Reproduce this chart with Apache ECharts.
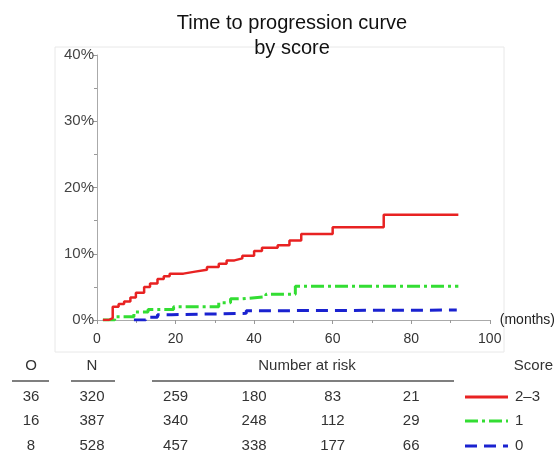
<!DOCTYPE html>
<html>
<head>
<meta charset="utf-8">
<script src="https://cdn.jsdelivr.net/npm/echarts@6/dist/echarts.min.js"></script>
<style>
  html, body { margin: 0; background: #fff; }
  #chart { width: 558px; height: 454px; }
</style>
</head>
<body>
<div id="chart"></div>
<script>
// cumulative progression (%) by month, one step list per score group
const score23 = [[1.5, 0], [3, 0.3], [4, 2.0], [5.5, 2.4], [6.9, 2.8], [8.5, 3.4], [9.9, 4.1], [12, 5.0],
  [13.5, 5.5], [15.4, 6.2], [17, 6.6], [18.5, 7.0], [22, 7.3], [25, 7.6], [28, 8.0], [31, 8.5],
  [33, 9.0], [35, 9.3], [37, 9.7], [40, 10.4], [42, 10.9], [46, 11.3], [49, 12.0], [52, 13.0],
  [60, 14.0], [73, 15.9], [92, 15.9]];
const score1 = [[1.5, 0], [4.5, 0.5], [9.4, 1.2], [13, 1.6], [19.5, 2.0], [31, 2.6], [34, 3.2],
  [37, 3.5], [43, 3.9], [50.5, 5.1], [92, 5.1]];
const score0 = [[9.4, 0], [12.4, 0.4], [15.4, 0.8], [19, 1.0], [38, 1.4], [42, 1.5], [91.6, 1.5]];

const scoreLabels = ["2–3", "1", "0"];
const observed = [36, 16, 8];
const totalN = [320, 387, 528];
const riskMonths = [20, 40, 60, 80];
const atRisk = [
  [259, 180, 83, 21],
  [340, 248, 112, 29],
  [457, 338, 177, 66]
];

const colors = ["#e82222", "#33dd33", "#1a22d0"];
const dashes = [null, [13, 4, 3, 4], [12, 7]];

const chart = echarts.init(document.getElementById("chart"));

const font = "Liberation Sans, Arial, sans-serif";

const option = {
  animation: false,
  textStyle: { fontFamily: font },
  title: {
    text: "Time to progression curve\nby score",
    left: 287,
    top: 6,
    textAlign: "center",
    textStyle: { fontSize: 20, fontWeight: "normal", color: "#111", lineHeight: 25, fontFamily: font }
  },
  grid: { left: 97, right: 68, top: 55, bottom: 134 },
  xAxis: {
    type: "value",
    min: 0,
    max: 100,
    interval: 20,
    name: "(months)",
    nameLocation: "end",
    nameGap: 10,
    nameTextStyle: { fontSize: 14, color: "#222", align: "left", verticalAlign: "middle" },
    axisLine: { lineStyle: { color: "#aaa" } },
    axisTick: { length: 4, lineStyle: { color: "#999" } },
    minorTick: { show: true, splitNumber: 2, length: 3, lineStyle: { color: "#999" } },
    axisLabel: { fontSize: 14, color: "#333", margin: 12 },
    splitLine: { show: false }
  },
  yAxis: {
    type: "value",
    min: 0,
    max: 40,
    interval: 10,
    axisLine: { show: true, lineStyle: { color: "#aaa" } },
    axisTick: { show: true, length: 4, lineStyle: { color: "#999" } },
    minorTick: { show: true, splitNumber: 2, length: 3, lineStyle: { color: "#999" } },
    axisLabel: { fontSize: 15, color: "#444", formatter: "{value}%", margin: 3 },
    splitLine: { show: false }
  },
  series: [score23, score1, score0].map((d, i) => ({
    type: "line",
    step: "end",
    data: d,
    symbol: "none",
    z: 3 - i,
    lineStyle: { color: colors[i], width: i === 0 ? 2.5 : 3, type: dashes[i] || "solid" }
  }))
};

chart.setOption(option);

// risk table below the plot, columns aligned on the x axis
const riskX = riskMonths.map(m => chart.convertToPixel({ xAxisIndex: 0 }, m));
const rowY = [397, 421, 446];
const txt = (x, y, s, align) => ({
  type: "text",
  x: x, y: y,
  style: { text: String(s), fill: "#333", fontSize: 15, fontFamily: font, align: align || "center", verticalAlign: "middle" }
});
const rule = (x1, x2, y) => ({
  type: "line",
  shape: { x1: x1, y1: y, x2: x2, y2: y },
  style: { stroke: "#555", lineWidth: 1.5 }
});

const graphics = [
  { type: "rect", shape: { x: 55, y: 47, width: 449, height: 305 }, style: { fill: "none", stroke: "#e8e8e8", lineWidth: 1 }, z: -1 },
  txt(31, 366, "O"), txt(92, 366, "N"), txt(307, 366, "Number at risk"), txt(553, 366, "Score", "right"),
  rule(12, 49, 381), rule(71, 115, 381), rule(152, 454, 381)
];

rowY.forEach((y, r) => {
  graphics.push(txt(31, y, observed[r]), txt(92, y, totalN[r]));
  riskX.forEach((x, c) => graphics.push(txt(x, y, atRisk[r][c])));
  graphics.push({
    type: "line",
    shape: { x1: 465, y1: y, x2: 508, y2: y },
    style: { stroke: colors[r], lineWidth: 3, lineDash: dashes[r] }
  });
  graphics.push(txt(515, y, scoreLabels[r], "left"));
});

chart.setOption({ graphic: graphics });
</script>
</body>
</html>
